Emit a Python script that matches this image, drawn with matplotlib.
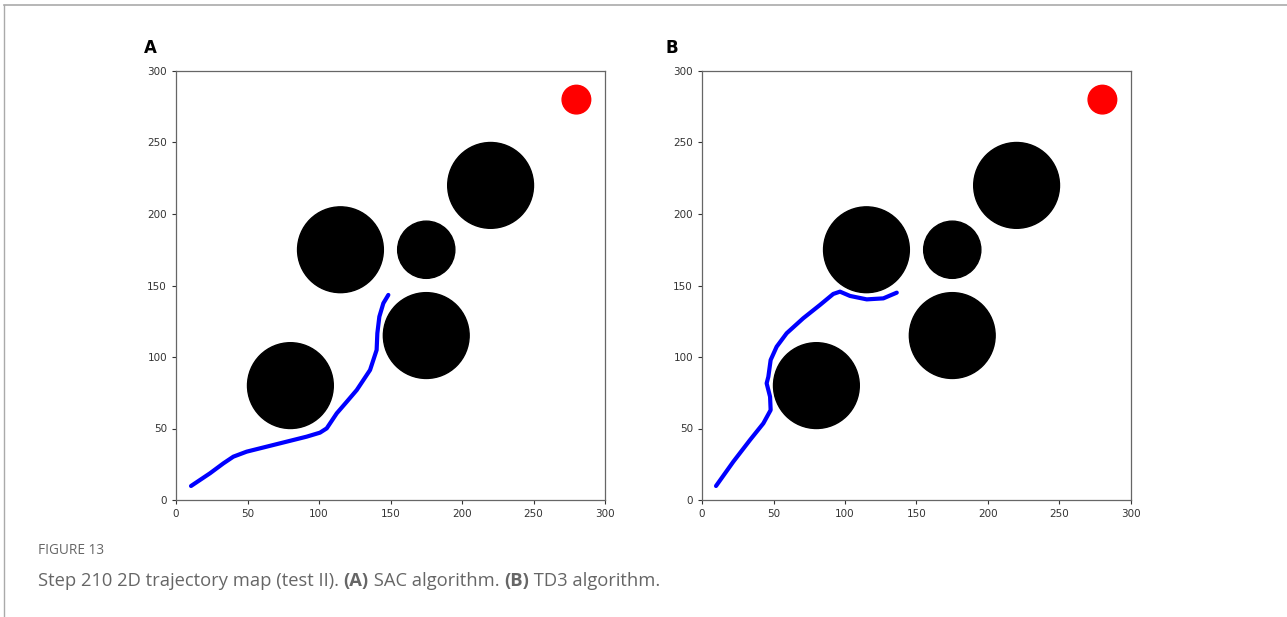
import matplotlib
matplotlib.use("Agg")
import matplotlib.pyplot as plt
from matplotlib.patches import Circle
from matplotlib.lines import Line2D

# Obstacles (x, y, radius)
obs_x = [80, 115, 175, 175, 220]
obs_y = [80, 175, 175, 115, 220]
obs_r = [30, 30, 20, 30, 30]
goal = (280, 280, 10)

# SAC trajectory
sac_x = [10.5, 23.8, 33.1, 40.1, 49.4, 63.4, 77.4, 91.4, 100.7, 105.4, 112.4, 119.4, 126.4, 135.7,
         140.3, 140.8, 142.2, 145.0, 148.5]
sac_y = [9.8, 18.7, 25.6, 30.3, 33.8, 37.3, 40.8, 44.3, 47.1, 50.1, 60.6, 68.7, 76.9, 90.9,
         104.9, 116.6, 128.2, 137.6, 143.4]
# TD3 trajectory
td3_x = [9.8, 21.9, 33.6, 42.9, 48.0, 47.6, 45.2, 46.4, 48.0, 52.2, 59.2, 70.8, 82.5, 91.8,
         96.5, 103.5, 115.2, 126.8, 136.2]
td3_y = [9.8, 26.8, 42.0, 53.6, 62.9, 72.2, 81.6, 86.2, 97.9, 107.2, 116.6, 127.1, 136.4, 144.1,
         145.7, 142.7, 140.3, 141.0, 145.0]

ticks = [0, 50, 100, 150, 200, 250, 300]

fig = plt.figure(figsize=(12.87, 6.17), dpi=100)
fig.patch.set_facecolor("white")

W, H = 1287, 617
def axpos(left_px):
    return [left_px / W, (H - 500) / H, 429 / W, 429 / H]

for left_px, label, tx, ty, lab_px in [(176, "A", sac_x, sac_y, 150), (702, "B", td3_x, td3_y, 672)]:
    ax = fig.add_axes(axpos(left_px))
    for x, y, r in zip(obs_x, obs_y, obs_r):
        ax.add_patch(Circle((x, y), r, color="black"))
    ax.add_patch(Circle(goal[:2], goal[2], color="red"))
    ax.plot(tx, ty, color="blue", lw=3, solid_capstyle="round", solid_joinstyle="round")
    ax.set_xlim(0, 300)
    ax.set_ylim(0, 300)
    ax.set_xticks(ticks)
    ax.set_yticks(ticks)
    ax.tick_params(labelsize=7.5, colors="#333333", length=3, width=0.8)
    for s in ax.spines.values():
        s.set_color("#666666")
        s.set_linewidth(0.9)
    fig.text(lab_px / W, 1 - 48 / H, label, fontsize=12, fontweight="bold", ha="center", va="center")

# Frame border lines
fig.add_artist(Line2D([4 / W, 1], [1 - 5 / H, 1 - 5 / H], color="#aaaaaa", lw=1.2, transform=fig.transFigure))
fig.add_artist(Line2D([4 / W, 4 / W], [0, 1 - 5 / H], color="#aaaaaa", lw=1.0, transform=fig.transFigure))

fig.text(38 / W, 1 - 550 / H, "FIGURE 13", fontsize=9.8, color="#666666", va="center", ha="left", family="Open Sans")

renderer = fig.canvas.get_renderer()
parts = [("Step 210 2D trajectory map (test II). ", "normal"), ("(A)", "bold"), (" SAC algorithm. ", "normal"),
         ("(B)", "bold"), (" TD3 algorithm.", "normal")]
x = 38 / W
for txt, wgt in parts:
    t = fig.text(x, 1 - 581 / H, txt, fontsize=13.2, color="#666666", va="center", ha="left",
                 family="Open Sans", fontweight=wgt)
    bb = t.get_window_extent(renderer=renderer)
    x += bb.width / W

fig.savefig("out.png", dpi=100, facecolor="white")
